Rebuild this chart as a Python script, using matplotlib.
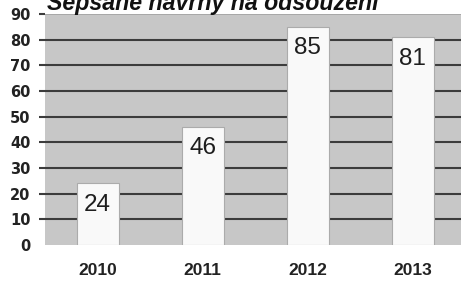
import matplotlib.pyplot as plt

years = ['2010', '2011', '2012', '2013']
counts = [24, 46, 85, 81]
yticks = [0, 10, 20, 30, 40, 50, 60, 70, 80, 90]

plt.rcParams['font.family'] = ['Liberation Sans', 'DejaVu Sans']

fig = plt.figure(figsize=(4.61, 2.81), dpi=100)
ax = fig.add_axes([45 / 461, 36 / 281, 420 / 461, 231 / 281])
ax.set_facecolor('#c7c7c7')

# gridlines behind the bars
for v in yticks[1:-1]:
    ax.axhline(v, color='#3c3c3c', lw=1.5, zorder=1)
ax.axhline(90, color='#a8a8a8', lw=1.4, zorder=1)

x = range(len(years))
ax.bar(x, counts, width=0.4, color='#f9f9f9', edgecolor='#ababab', lw=0.8, zorder=2)
for i, c in zip(x, counts):
    ax.text(i, c - 10.7, str(c), ha='center', va='baseline', fontsize=17.5,
            color='#1e1e1e', zorder=3)

ax.set_xlim(-0.5, 3.5)
ax.set_ylim(0, 90)
ax.set_yticks(yticks)
ax.set_yticklabels([str(v) for v in yticks], fontweight='bold', fontsize=10.5,
                   family='DejaVu Sans', color='#222222')
ax.set_xticks(list(x))
ax.set_xticklabels(years, fontweight='bold', fontsize=12.5, color='#222222')
ax.tick_params(axis='y', length=4.3, width=1.5, color='#3c3c3c', pad=6)
ax.tick_params(axis='x', length=0, pad=13)
ticks = ax.yaxis.get_major_ticks()
ticks[0].tick1line.set_visible(False)
ticks[-1].tick1line.set_color('#a8a8a8')
for s in ax.spines.values():
    s.set_visible(False)

fig.text(47 / 461, 1 - 10 / 281, 'Sepsané návrhy na odsouzení', fontsize=16.7,
         fontweight='bold', fontstyle='italic', color='#111111', ha='left', va='baseline')

fig.savefig('out.png', dpi=100)
